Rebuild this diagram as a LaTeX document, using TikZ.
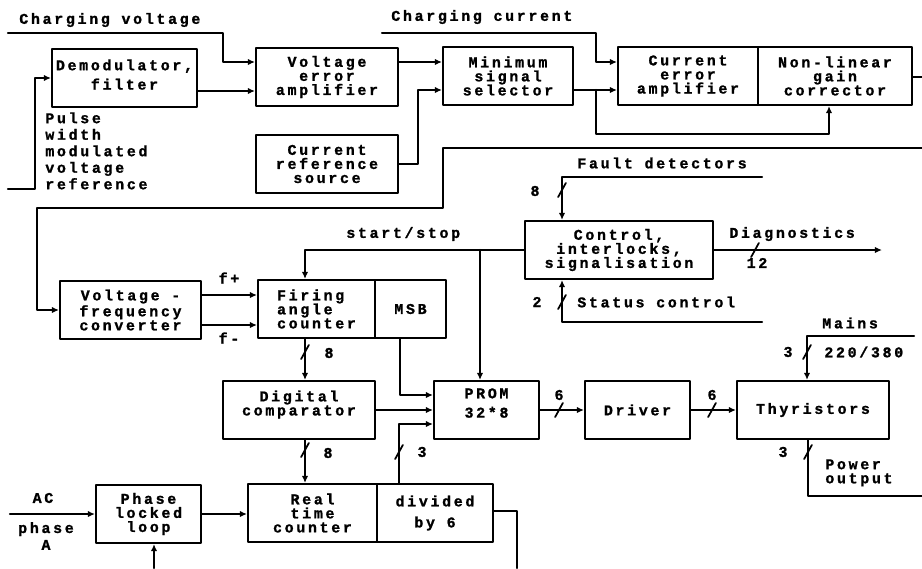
\documentclass[tikz,border=0pt]{standalone}
\usepackage{fontspec}
\setmainfont{Liberation Mono}[LetterSpace=18,BoldFeatures={FakeBold=1.2}]
\usetikzlibrary{arrows.meta}
\begin{document}
\begin{tikzpicture}[x=.02cm,y=-.02cm,line cap=round,line join=round]
  \tikzset{box/.style={draw,line width=1.2pt,inner sep=0pt,align=center,minimum height=1.16cm,font=\fontsize{8.5}{8}\selectfont\bfseries},
    lbl/.style={inner sep=0pt,align=left,font=\fontsize{8.5}{8}\selectfont\bfseries},
    wire/.style={line width=1.2pt},
    sig/.style={wire,-{Latex[length=4pt,width=3.6pt]}},
    buswidth/.pic={\draw[line width=1pt] (-2.2pt,-4pt)--(2.2pt,4pt);}}
  \useasboundingbox (0,0) rectangle (922,568);
  \node[box,minimum width=2.9cm] (demod) at (124.5,78) {Demodulator,\\[3pt]filter\\[-4pt]~};
  \node[box,minimum width=2.84cm] (verr) at (327,77) {Voltage\\error\\amplifier};
  \node[box,minimum width=2.84cm] (crs) at (327,164) {Current\\reference\\source};
  \node[box,minimum width=2.6cm] (mss) at (508,76) {Minimum\\signal\\selector};
  \node[box,minimum width=2.8cm] (cerr) at (688,76) {Current\\error\\amplifier};
  \node[box,minimum width=3.08cm] (nlg) at (835,76) {Non-linear\\gain\\corrector};
  \node[box,minimum width=3.76cm] (ctrl) at (619,250) {Control,\\interlocks,\\signalisation};
  \node[box,minimum width=2.82cm] (vfc) at (130.5,310) {Voltage -\\frequency\\converter};
  \node[box,align=left,minimum width=2.34cm] (fac) at (316.5,309) {Firing\\angle\\counter};
  \node[box,minimum width=1.42cm] (msb) at (410.5,309) {MSB};
  \node[box,minimum width=3.04cm] (dcomp) at (299,410) {Digital\\comparator\\~};
  \node[box,minimum width=2.1cm] (prom) at (486.5,410) {PROM\\[3pt]32*8\\~};
  \node[box,minimum width=2.1cm] (drv) at (637.5,410) {Driver};
  \node[box,minimum width=3.04cm] (thy) at (813,410) {Thyristors};
  \node[box,minimum width=2.1cm] (pll) at (148.5,514) {Phase\\locked\\loop};
  \node[box,minimum width=2.58cm] (rtc) at (312.5,513) {Real\\time\\counter};
  \node[box,minimum width=2.32cm] (div) at (435,513) {divided\\[4pt]by 6};
  \coordinate (cv) at (8,33); \coordinate (pwm) at (8,189); \coordinate (cc) at (382,33);
  \coordinate (nlgout) at (922,77); \coordinate (fb) at (922,148);
  \coordinate (fd) at (762,177); \coordinate (sc) at (762,322); \coordinate (diag) at (882,250);
  \coordinate (mains) at (914,336); \coordinate (pwr) at (922,496);
  \coordinate (ac) at (10,514); \coordinate (pllin) at (154,568); \coordinate (divout) at (517,568);
  \draw[sig] (cv) -| (223,62) -- (verr.west |- 0,62);
  \draw[sig] (pwm) -| (35,0 |- demod.west) -- (demod.west);
  \draw[sig] (demod.east |- 0,91) -- (verr.west |- 0,91);
  \draw[sig] (verr.east |- 0,62) -- (mss.west |- 0,62);
  \draw[sig] (crs.east) -| (418,90) -- (mss.west |- 0,90);
  \draw[sig] (cc) -| (596,62) -- (cerr.west |- 0,62);
  \draw[sig] (mss.east |- 0,90) -- (cerr.west |- 0,90);
  \draw[sig] (596,90) |- (829,134) -- (829,0 |- nlg.south);
  \draw[wire] (nlg.east |- nlgout) -- (nlgout);
  \draw[sig] (fb) -| (443,208) -| (37,0 |- vfc.west) -- (vfc.west);
  \draw[sig] (fd) -| (562,0 |- ctrl.north); \pic at (562,190) {buswidth};
  \draw[sig] (sc) -| (562,0 |- ctrl.south); \pic at (562,302) {buswidth};
  \draw[sig] (ctrl.east) -- (diag); \pic at (755,250) {buswidth};
  \draw[sig] (ctrl.west) -| (305,0 |- fac.north);
  \draw[sig] (480,0 |- ctrl.west) -- (480,0 |- prom.north);
  \draw[sig] (vfc.east |- 0,295) -- (fac.west |- 0,295);
  \draw[sig] (vfc.east |- 0,325) -- (fac.west |- 0,325);
  \draw[sig] (305,0 |- fac.south) -- (305,0 |- dcomp.north); \pic at (305,352) {buswidth};
  \draw[sig] (400,0 |- msb.south) |- (prom.west |- 0,395);
  \draw[sig] (dcomp.east) -- (prom.west |- dcomp.east);
  \draw[sig] (399,0 |- div.north) |- (prom.west |- 0,424); \pic at (399,452) {buswidth};
  \draw[sig] (prom.east) -- (drv.west); \pic at (559,410) {buswidth};
  \draw[sig] (drv.east) -- (thy.west |- drv.east); \pic at (712,410) {buswidth};
  \draw[sig] (mains) -| (807,0 |- thy.north); \pic at (807,352) {buswidth};
  \draw[wire] (808,0 |- thy.south) |- (pwr); \pic at (808,452) {buswidth};
  \draw[sig] (ac) -- (pll.west |- ac);
  \draw[sig] (pll.east) -- (rtc.west |- pll.east);
  \draw[sig] (305,0 |- dcomp.south) -- (305,0 |- rtc.north); \pic at (305,450) {buswidth};
  \draw[wire] (div.east |- 0,511) -| (divout);
  \draw[sig] (pllin) -- (154,0 |- pll.south);
  \node[lbl,anchor=west] (lcv) at (19,20) {Charging voltage};
  \node[lbl,anchor=west] (lcc) at (391,17) {Charging current};
  \node[lbl,anchor=north west,font=\fontsize{8.5}{9.4}\selectfont\bfseries] (lpwm) at (45,112) {Pulse\\width\\modulated\\voltage\\reference};
  \node[lbl,anchor=west] (lfd) at (577,163) {Fault detectors};
  \node[lbl,anchor=west] (lsc) at (577,302) {Status control};
  \node[lbl,anchor=west] (ldiag) at (729,234) {Diagnostics};
  \node[lbl] (l12) at (757,263) {12};
  \node[lbl,anchor=west] (lss) at (346,234) {start/stop};
  \node[lbl] (lfp) at (229,278) {f+}; \node[lbl] (lfm) at (229,338) {f-};
  \node[lbl] (l8a) at (535,191) {8}; \node[lbl] (l8b) at (329,353) {8}; \node[lbl] (l8c) at (328,453) {8};
  \node[lbl] (l2) at (537,302) {2};
  \node[lbl] (l3a) at (422,452) {3}; \node[lbl] (l3b) at (788,352) {3}; \node[lbl] (l3c) at (783,452) {3};
  \node[lbl] (l6a) at (559,395) {6}; \node[lbl] (l6b) at (712,395) {6};
  \node[lbl,anchor=west] (lmains) at (822,323) {Mains};
  \node[lbl,anchor=west] (lvolt) at (824,352) {220/380};
  \node[lbl,anchor=north west] (lpwr) at (825,459) {Power\\output};
  \node[lbl] (lac) at (43,498) {AC};
  \node[lbl,align=center,font=\fontsize{8.5}{9.6}\selectfont\bfseries] (lph) at (46,536) {phase\\A};
\end{tikzpicture}
\end{document}
